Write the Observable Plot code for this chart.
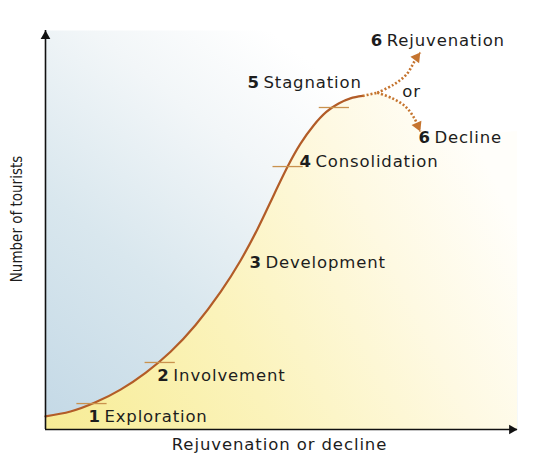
<!DOCTYPE html>
<html>
<head>
<meta charset="utf-8">
<script src="https://cdn.jsdelivr.net/npm/d3@7"></script>
<script src="https://cdn.jsdelivr.net/npm/@observablehq/plot@0.6"></script>
<style>
  html, body { margin: 0; padding: 0; background: #ffffff; }
  #chart svg { display: block; }
</style>
</head>
<body>
<div id="chart"></div>
<script>
// ---- Data (arbitrary 0–100 units) ----
const curveX = [0, 5.3, 10.6, 15.9, 21.2, 26.5, 31.8, 37.1, 41.3, 44.9, 48.1, 51.3, 54.0, 56.8, 59.5, 62.1, 64.6, 67.2];
const curveY = [3.3, 4.5, 6.8, 10.0, 14.2, 19.5, 26.2, 34.5, 42.3, 50.2, 58.1, 65.9, 71.6, 76.2, 79.6, 81.7, 83.0, 83.6];

const stagnationX = [67.2, 70.3];
const stagnationY = [83.6, 84.4];

const rejuvenationX = [70.3, 73.7, 76.5, 78.6, 79.4];
const rejuvenationY = [84.4, 86.4, 89.0, 93.2, 94.5];

const declineX = [70.3, 73.5, 76.3, 78.2, 79.4];
const declineY = [84.4, 83.0, 80.9, 77.9, 74.7];

const stageTickX = [9.85, 24.3, 51.4, 61.2];
const stageTickY = [6.5, 16.8, 65.9, 80.7];

const labelNums  = ["1", "2", "3", "4", "5", "6", "", "6"];
const labelNames = ["Exploration", "Involvement", "Development", "Consolidation", "Stagnation", "Rejuvenation", "or", "Decline"];
const labelX = [9.1, 23.7, 43.2, 53.8, 42.8, 68.9, 75.6, 79.0];
const labelY = [3.3, 13.5, 41.9, 67.2, 87.0, 97.5, 84.7, 73.2];

const xTitle = "Rejuvenation or decline";
const yTitle = "Number of tourists";

// ---- Layout ----
const W = 533, H = 462, ML = 45, MR = 16, MT = 30, MB = 33;
const kx = (W - ML - MR) / 100, ky = (H - MT - MB) / 100;

const zip = (xs, ys) => xs.map((x, i) => ({x, y: ys[i]}));
const curve = zip(curveX, curveY);
const stag = zip(stagnationX, stagnationY);
const rejuv = zip(rejuvenationX, rejuvenationY);
const decl = zip(declineX, declineY);
const ticks = zip(stageTickX, stageTickY);
const labels = labelNames.map((name, i) => ({num: labelNums[i], name, x: labelX[i], y: labelY[i]}));

// fill beyond the solid curve: along the stagnation/decline path, then to the right edge
const tailFill = [curve[curve.length - 2], ...stag, ...decl.slice(1)];
tailFill.push({x: 100, y: tailFill[tailFill.length - 1].y});

// arrowhead placement (triangle centroid behind the tip, rotated along the last segment)
const HEAD_R = 4;
const headBack = 2 * Math.sqrt((HEAD_R * HEAD_R * Math.PI) / (Math.sqrt(3) * 3));
function head(pts) {
  const a = pts[pts.length - 2], b = pts[pts.length - 1];
  const px = (b.x - a.x) * kx, py = -(b.y - a.y) * ky;
  const len = Math.hypot(px, py);
  return {
    x: b.x - (px / len) * headBack / kx,
    y: b.y + (py / len) * headBack / ky,
    rotate: Math.atan2(px, -py) * 180 / Math.PI
  };
}
const heads = [head(rejuv), head(decl)];

const FONT = "DejaVu Sans, Verdana, sans-serif";
const INK = "#1d1d1d";
const LINE = "#b25c28";
const DOT = "#c5742f";
const dotted = {x: "x", y: "y", stroke: DOT, strokeWidth: 2.6, strokeDasharray: "2,2", strokeLinecap: "butt", curve: "catmull-rom"};

const svg = Plot.plot({
  width: W, height: H,
  marginLeft: ML, marginRight: MR, marginTop: MT, marginBottom: MB,
  x: {domain: [0, 100], axis: null},
  y: {domain: [0, 100], axis: null},
  style: {background: "#ffffff", fontFamily: FONT, overflow: "visible"},
  marks: [
    Plot.frame({fill: "url(#bgBlue)", stroke: "none"}),
    Plot.areaY(tailFill, {x: "x", y: "y", fill: "url(#bgYellow)", curve: "catmull-rom"}),
    Plot.areaY(curve, {x: "x", y: "y", fill: "url(#bgYellow)", curve: "natural"}),
    Plot.line(curve, {x: "x", y: "y", stroke: LINE, strokeWidth: 2.2, curve: "natural"}),
    Plot.line(stag, dotted),
    Plot.line(rejuv, dotted),
    Plot.line(decl, dotted),
    Plot.dot(heads, {x: "x", y: "y", rotate: "rotate", symbol: "triangle", r: HEAD_R, fill: DOT, stroke: "none"}),
    Plot.ruleY(ticks, {y: "y", x1: d => d.x - 3.2, x2: d => d.x + 3.2, stroke: "#c9924e", strokeWidth: 1.3}),
    // axes with arrowheads
    Plot.ruleX([0], {stroke: "#111", strokeWidth: 1.6}),
    Plot.ruleY([0], {stroke: "#111", strokeWidth: 1.6}),
    Plot.dot([{x: 0, y: 100}], {x: "x", y: "y", symbol: "triangle", r: 3.6, fill: "#111", stroke: "none", dy: 5.6}),
    Plot.dot([{x: 100, y: 0}], {x: "x", y: "y", symbol: "triangle", r: 3.6, fill: "#111", stroke: "none", rotate: 90, dx: -5.6}),
    // stage labels
    Plot.text(labels.filter(d => d.num !== ""), {x: "x", y: "y", text: "num", textAnchor: "start", fontSize: 16.5, fontWeight: "bold", fill: INK, fontFamily: FONT}),
    Plot.text(labels.filter(d => d.num !== ""), {x: "x", y: "y", text: "name", textAnchor: "start", dx: 16, fontSize: 16.5, fill: INK, fontFamily: FONT}),
    Plot.text(labels.filter(d => d.num === ""), {x: "x", y: "y", text: "name", textAnchor: "start", fontSize: 16.5, fill: INK, fontFamily: FONT}),
    // axis titles
    Plot.text([xTitle], {frameAnchor: "bottom", textAnchor: "middle", dy: 20, dx: -2, fontSize: 16.5, fill: INK, fontFamily: FONT}),
    Plot.text([yTitle], {frameAnchor: "left", textAnchor: "middle", rotate: -90, dx: -28, dy: -11, fontSize: 15, fill: INK, fontFamily: "DejaVu Sans Condensed, sans-serif"})
  ]
});

// letter spacing (tracking) for the stage names and the x title
d3.select(svg).selectAll("text")
  .filter(function () { return labelNames.includes(this.textContent); })
  .attr("letter-spacing", 0.85);
d3.select(svg).selectAll("text")
  .filter(function () { return this.textContent === xTitle; })
  .attr("letter-spacing", 0.9);

// gradient definitions
const defs = d3.select(svg).insert("defs", ":first-child");
const gb = defs.append("linearGradient").attr("id", "bgBlue")
  .attr("gradientUnits", "userSpaceOnUse")
  .attr("x1", 45).attr("y1", 420).attr("x2", 320).attr("y2", 70);
[[0, "#c4d9e6"], [0.4, "#d9e7ee"], [0.75, "#f2f6f8"], [1, "#ffffff"]]
  .forEach(([o, c]) => gb.append("stop").attr("offset", o).attr("stop-color", c));
const gy = defs.append("linearGradient").attr("id", "bgYellow")
  .attr("gradientUnits", "userSpaceOnUse")
  .attr("x1", 45).attr("y1", 429).attr("x2", 505).attr("y2", 200);
[[0, "#f7ec95"], [0.4, "#fbf3bb"], [0.75, "#fef9e2"], [1, "#fffefa"]]
  .forEach(([o, c]) => gy.append("stop").attr("offset", o).attr("stop-color", c));

document.getElementById("chart").appendChild(svg);
</script>
</body>
</html>
